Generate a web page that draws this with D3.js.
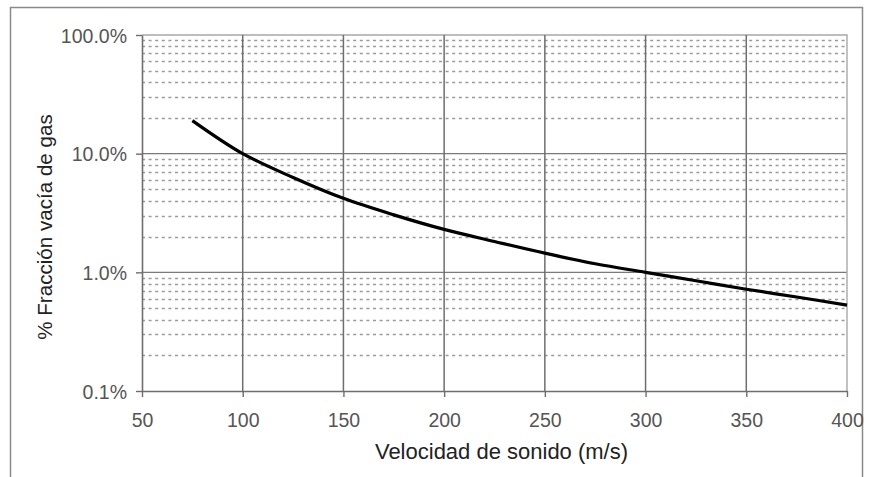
<!DOCTYPE html>
<style>
  body { margin: 0; background: #fff; }
  svg { display: block; font-family: Arial, "Liberation Sans", sans-serif; }
  .major { stroke: #7a7a7a; stroke-width: 1.4; }
  .minor { stroke: #9a9a9a; stroke-width: 1.3; stroke-dasharray: 3,3.6; }
  .vline { stroke: #6e6e6e; stroke-width: 1.5; }
  .tick-label { fill: #555; font-size: 19.5px; }
  .title { fill: #222; }
</style>
<body>
</body>
<script src="https://cdn.jsdelivr.net/npm/d3@7/dist/d3.min.js"></script>
<script>
  // sound speed (m/s) vs gas void fraction (fraction, log axis)
  const speeds = [75, 100, 125, 150, 175, 200, 225, 250, 275, 300, 325, 350, 375, 400];
  const voidFrac = [0.19, 0.10, 0.063, 0.042, 0.0305, 0.023, 0.0182, 0.0145, 0.0118, 0.0100, 0.0085, 0.0072, 0.0062, 0.0053];
  const xTicks = [50, 100, 150, 200, 250, 300, 350, 400];
  const yTicks = [0.001, 0.01, 0.1, 1];

  const W = 870, H = 477;
  const l = 142, r = 847, t = 35, b = 391;

  const svg = d3.select('body').append('svg')
    .attr('width', W).attr('height', H);

  // outer frame
  svg.append('rect')
    .attr('x', 10.5).attr('y', 7.5)
    .attr('width', 852).attr('height', 480)
    .attr('fill', 'none').attr('stroke', '#8a8a8a').attr('stroke-width', 1.5);

  const x = d3.scaleLinear().domain([50, 400]).range([l, r]);
  const y = d3.scaleLog().domain([0.001, 1]).range([b, t]);

  // minor (dashed) gridlines at 2..9 of each decade
  const minor = [];
  for (let d = 0.001; d < 0.9; d *= 10) {
    for (let k = 2; k <= 9; ++k) minor.push(d * k);
  }
  svg.append('g').selectAll('line')
    .data(minor)
    .join('line')
    .attr('class', 'minor')
    .attr('x1', l).attr('x2', r)
    .attr('y1', d => Math.round(y(d)) + 0.5).attr('y2', d => Math.round(y(d)) + 0.5);

  // major gridlines at decades
  svg.append('g').selectAll('line')
    .data([0.01, 0.1])
    .join('line')
    .attr('class', 'major')
    .attr('x1', l).attr('x2', r)
    .attr('y1', d => y(d)).attr('y2', d => y(d));

  // plot top + right edge (light)
  svg.append('path')
    .attr('d', `M${l},${t}H${r}V${b}`)
    .attr('fill', 'none').attr('stroke', '#a8a8a8').attr('stroke-width', 1.4);

  // vertical gridlines
  svg.append('g').selectAll('line')
    .data(xTicks.slice(1, -1))
    .join('line')
    .attr('class', 'vline')
    .attr('x1', d => x(d)).attr('x2', d => x(d))
    .attr('y1', t).attr('y2', b);

  // axes
  const xAxis = svg.append('g')
    .attr('transform', `translate(0, ${b})`)
    .call(d3.axisBottom(x).tickValues(xTicks).tickSize(6).tickSizeOuter(0).tickFormat(d3.format('d')));
  const yAxis = svg.append('g')
    .attr('transform', `translate(${l}, 0)`)
    .call(d3.axisLeft(y).tickValues(yTicks).tickSize(6).tickSizeOuter(0).tickFormat(d3.format('.1%')));

  [xAxis, yAxis].forEach(a => {
    a.select('.domain').attr('stroke', '#6e6e6e').attr('stroke-width', 1.6);
    a.selectAll('.tick line').attr('stroke', '#6e6e6e').attr('stroke-width', 1.4);
    a.selectAll('.tick text').attr('class', 'tick-label').attr('fill', null)
      .style('font-family', 'Arial, "Liberation Sans", sans-serif');
  });
  xAxis.selectAll('.tick text').attr('dy', null).attr('y', 36);
  yAxis.selectAll('.tick text').attr('x', -15).attr('dy', '0.36em');

  // curve
  const line = d3.line()
    .x((d, i) => x(speeds[i]))
    .y(d => y(d))
    .curve(d3.curveCatmullRom.alpha(0.5));
  svg.append('path')
    .datum(voidFrac)
    .attr('d', line)
    .attr('fill', 'none')
    .attr('stroke', '#000')
    .attr('stroke-width', 3.2);

  // titles
  svg.append('text')
    .attr('class', 'title')
    .attr('x', (l + r) / 2 + 7).attr('y', 459)
    .attr('text-anchor', 'middle')
    .style('font-size', '22px')
    .text('Velocidad de sonido (m/s)');

  svg.append('text')
    .attr('class', 'title')
    .attr('transform', `translate(52, 227) rotate(-90)`)
    .attr('text-anchor', 'middle')
    .style('font-size', '20.6px')
    .text('% Fracción vacía de gas');
</script>
